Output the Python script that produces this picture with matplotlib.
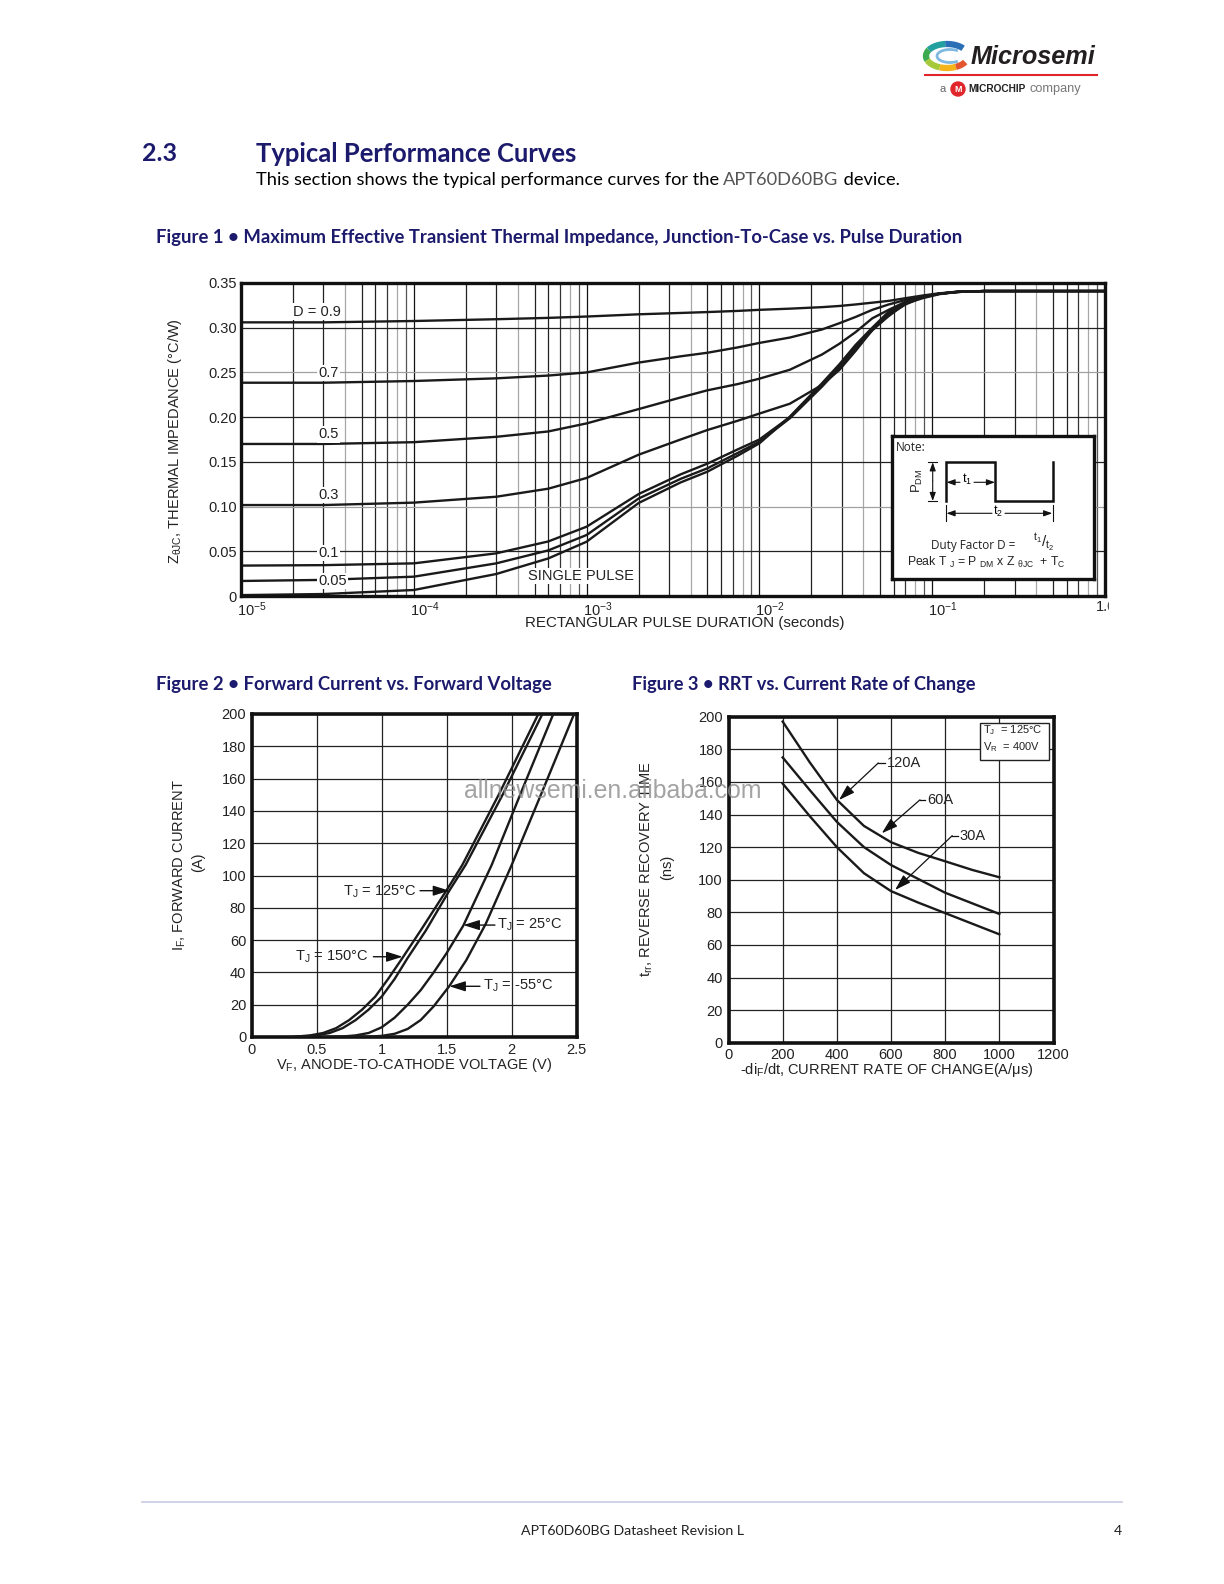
import matplotlib
matplotlib.use('Agg')
import matplotlib.pyplot as plt
import numpy as np
from matplotlib.patches import Rectangle, Circle
from matplotlib.lines import Line2D
from matplotlib.ticker import NullLocator
import matplotlib.transforms as mtransforms

plt.rcParams['font.family'] = ['Liberation Sans', 'DejaVu Sans']
plt.rcParams['mathtext.fontset'] = 'custom'
plt.rcParams['mathtext.rm'] = 'Liberation Sans'
plt.rcParams['mathtext.it'] = 'Liberation Sans:italic'
plt.rcParams['mathtext.bf'] = 'Liberation Sans:bold'

# ---------------- data ----------------
# Figure 1: transient thermal impedance (seconds, degC/W)
t_pulse = [1e-5, 3e-5, 1e-4, 3e-4, 6e-4, 1e-3, 2e-3, 3.5e-3, 5e-3, 7.5e-3, 1e-2,
           1.5e-2, 2.3e-2, 2.9e-2, 3.6e-2, 4.5e-2, 5.6e-2, 7e-2, 8.8e-2, 1.1e-1,
           1.4e-1, 2e-1, 1.0]
z_d09 = [0.306, 0.306, 0.3075, 0.3095, 0.311, 0.3125, 0.315, 0.3165, 0.3175, 0.3188,
         0.320, 0.3213, 0.323, 0.3243, 0.326, 0.328, 0.330, 0.333, 0.336, 0.3385,
         0.340, 0.341, 0.341]
z_d07 = [0.2385, 0.2385, 0.2404, 0.2434, 0.2465, 0.250, 0.261, 0.268, 0.272, 0.278,
         0.283, 0.289, 0.298, 0.305, 0.312, 0.320, 0.326, 0.331, 0.335, 0.338,
         0.3405, 0.341, 0.341]
z_d05 = [0.170, 0.170, 0.172, 0.178, 0.184, 0.193, 0.209, 0.222, 0.230, 0.237,
         0.243, 0.253, 0.270, 0.282, 0.295, 0.3105, 0.320, 0.329, 0.334, 0.338,
         0.340, 0.341, 0.341]
z_d03 = [0.1017, 0.1017, 0.1044, 0.111, 0.120, 0.132, 0.158, 0.175, 0.1856, 0.196,
         0.204, 0.215, 0.236, 0.2527, 0.274, 0.2974, 0.313, 0.327, 0.333, 0.3375,
         0.340, 0.341, 0.341]
z_d01 = [0.034, 0.0345, 0.0365, 0.0477, 0.061, 0.0775, 0.114, 0.136, 0.148, 0.164,
         0.175, 0.200, 0.236, 0.257, 0.279, 0.299, 0.316, 0.327, 0.3347, 0.338,
         0.340, 0.341, 0.341]
z_d005 = [0.0168, 0.018, 0.0216, 0.0365, 0.051, 0.0682, 0.109, 0.131, 0.1428, 0.160,
          0.1725, 0.1987, 0.234, 0.255, 0.277, 0.297, 0.3142, 0.326, 0.334, 0.338,
          0.340, 0.341, 0.341]
z_single = [0.001, 0.0022, 0.0067, 0.0246, 0.042, 0.0607, 0.104, 0.127, 0.139, 0.157,
            0.1707, 0.2005, 0.2378, 0.259, 0.2807, 0.300, 0.318, 0.328, 0.335, 0.338,
            0.340, 0.341, 0.341]
d_labels = ['D = 0.9', '0.7', '0.5', '0.3', '0.1', '0.05', 'SINGLE PULSE']

# Figure 2: forward current vs forward voltage
vf_150 = [0.30, 0.45, 0.55, 0.65, 0.75, 0.85, 0.95, 1.05, 1.16, 1.30, 1.50, 1.62, 1.90, 2.205]
if_150 = [0, 1, 2.5, 5.5, 10.5, 17, 25, 36, 49, 66, 91, 106.5, 150, 200]
vf_125 = [0.35, 0.50, 0.60, 0.70, 0.80, 0.90, 1.00, 1.10, 1.20, 1.34, 1.52, 1.645, 1.93, 2.236]
if_125 = [0, 1, 2.5, 5.5, 10.5, 17, 25, 36, 49, 66, 90.6, 106.5, 150, 200]
vf_25 = [0.55, 0.70, 0.80, 0.90, 1.00, 1.10, 1.20, 1.30, 1.40, 1.50, 1.628, 1.846, 2.08, 2.32]
if_25 = [0, 0.3, 1, 2.5, 6, 12, 20, 29, 40, 52, 69, 106.5, 153, 200]
vf_m55 = [0.75, 0.90, 1.00, 1.10, 1.20, 1.30, 1.40, 1.52, 1.65, 1.80, 2.00, 2.24, 2.48]
if_m55 = [0, 0.2, 0.7, 2, 5, 10.5, 19, 31.5, 47.5, 70, 106.5, 153, 200]
fig2_x_ticks = ['0', '0.5', '1', '1.5', '2', '2.5']

# Figure 3: reverse recovery time vs di/dt
didt = [200, 300, 400, 500, 600, 700, 800, 900, 1000]
trr_120 = [197, 172, 149, 133, 123, 116.5, 111.3, 106, 101.5]
trr_60 = [175, 155, 135.5, 120, 109, 100.5, 92, 85.5, 79]
trr_30 = [159, 139, 120, 104, 93, 86, 79.5, 73, 66.5]

NAVY = '#1c1a6c'
PAGE = ['Lato', 'DejaVu Sans']
INK = '#1a1a1a'

W, H = 1224, 1584
fig = plt.figure(figsize=(W / 100, H / 100), dpi=100)
renderer = fig.canvas.get_renderer()


def ax_px(l, t, r, b, **kw):
    return fig.add_axes([l / W, 1 - b / H, (r - l) / W, (b - t) / H], **kw)


def ftext(x, y, s, target_w=None, **kw):
    t = fig.text(x / W, 1 - y / H, s, **kw)
    if target_w:
        w = t.get_window_extent(renderer).width
        t.set_fontsize(t.get_fontsize() * target_w / w)
    return t


def text_w(s, **kw):
    t = fig.text(0, 0, s, **kw)
    w = t.get_window_extent(renderer).width
    t.remove()
    return w

# ---------------- page header ----------------
ftext(142, 153.5, '2.3', target_w=35, fontsize=17, fontweight='bold', color=NAVY,
      family=PAGE, va='center')
ftext(255.5, 153.5, 'Typical Performance Curves', target_w=321, fontsize=17,
      fontweight='bold', color=NAVY, family=PAGE, va='center')

segs = [('This section shows the typical performance curves for the ', 'black'),
        ('APT60D60BG', '#555555'), (' device.', 'black')]
full = ''.join(s for s, _ in segs)
fs_body = 12 * 642 / text_w(full, fontsize=12, family=PAGE)
x0 = 255.5
prefix = ''
for s, c in segs:
    off = (text_w(prefix + '|', fontsize=fs_body, family=PAGE)
           - text_w('|', fontsize=fs_body, family=PAGE)) if prefix else 0
    ftext(x0 + off, 180, s, fontsize=fs_body, color=c, family=PAGE, va='center')
    prefix += s

ftext(156.5, 237, 'Figure 1 \u2022 Maximum Effective Transient Thermal Impedance, Junction-To-Case vs. Pulse Duration',
      target_w=805, fontsize=12, fontweight='bold', color=NAVY, family=PAGE, va='center')
ftext(156.5, 684, 'Figure 2 \u2022 Forward Current vs. Forward Voltage', target_w=393,
      fontsize=12, fontweight='bold', color=NAVY, family=PAGE, va='center')
ftext(632, 684, 'Figure 3 \u2022 RRT vs. Current Rate of Change', target_w=342,
      fontsize=12, fontweight='bold', color=NAVY, family=PAGE, va='center')

# footer
fig.add_artist(Line2D([142 / W, 1122 / W], [1 - 1502 / H] * 2, color='#c9c9e6', lw=1.2))
ftext(632, 1531, 'APT60D60BG Datasheet Revision L', target_w=224, fontsize=10,
      family=PAGE, ha='center', va='center', color='#222')
ftext(1118, 1531, '4', fontsize=10, family=PAGE, ha='center', va='center', color='#222')

# ---------------- logo ----------------
axl = ax_px(915, 35, 1105, 100)
axl.set_xlim(915, 1105)
axl.set_ylim(100, 35)
axl.axis('off')
cx, cy, rx, ry = 947, 56, 21, 12
cols = [(40, 95, '#2a6fb6'), (95, 150, '#22a0a0'), (150, 200, '#3caa4e'),
        (200, 250, '#a6c93a'), (250, 295, '#f4b41a'), (295, 330, '#e4572e')]
for a0, a1, c in cols:
    th = np.radians(np.linspace(a0, a1, 30))
    axl.plot(cx + rx * np.cos(th), cy - ry * np.sin(th), color=c, lw=4.5,
             solid_capstyle='butt')
th = np.radians(np.linspace(60, 300, 40))
axl.plot(cx + 3 + 13 * np.cos(th), cy - 6.5 * np.sin(th), color='#7fb9e0', lw=2)
ftext(971, 57, 'Microsemi', target_w=125, fontsize=18, fontweight='bold',
      style='italic', color='#231f20', va='center')
axl.plot([925, 1097], [75, 75], color='#e0262b', lw=1.5)
ftext(943, 89, 'a', fontsize=8, color='#666', ha='center', va='center')
axl.add_patch(Circle((958, 89), 7, color='#e0262b'))
axl.text(958, 89.5, 'M', color='white', fontsize=6.5, fontweight='bold',
         ha='center', va='center')
ftext(968, 89.5, 'MICROCHIP', target_w=58, fontsize=7, fontweight='bold',
      color='#222', va='center')
ftext(1030, 89, 'company', target_w=52, fontsize=8, color='#777', va='center')

# ---------------- Figure 1 ----------------
ax1 = ax_px(241, 283, 1105, 596)
ax1.set_xscale('log')
ax1.set_xlim(1e-5, 1.0)
ax1.set_ylim(0, 0.35)
ax1.xaxis.set_major_locator(NullLocator())
ax1.xaxis.set_minor_locator(NullLocator())
mult_col = {1: '#111111', 2: '#222222', 3: '#222222', 4: '#a8a8a8', 5: '#222222',
            6: '#222222', 7: '#333333', 8: '#a8a8a8', 9: '#555555'}
for dec in range(-5, 0):
    for m in range(1, 10):
        x = m * 10.0 ** dec
        if x <= 1e-5:
            continue
        ax1.axvline(x, color=mult_col[m], lw=0.9, zorder=1)
hcol = {0.05: '#222222', 0.10: '#a0a0a0', 0.15: '#222222', 0.20: '#222222',
        0.25: '#a0a0a0', 0.30: '#222222'}
for yv, c in hcol.items():
    ax1.axhline(yv, color=c, lw=0.9, zorder=1)
yt = np.round(np.arange(0, 0.351, 0.05), 2)
ax1.set_yticks(yt)
ax1.set_yticklabels(['0', '0.05', '0.10', '0.15', '0.20', '0.25', '0.30', '0.35'],
                    fontsize=10.5, color='#222')
ax1.tick_params(axis='y', length=0, pad=3)
for sp in ax1.spines.values():
    sp.set_linewidth(2.4)
    sp.set_color('#111')
    sp.set_zorder(5)
for z in [z_d09, z_d07, z_d05, z_d03, z_d01, z_d005, z_single]:
    ax1.plot(t_pulse, z, color=INK, lw=1.7, zorder=3)

lab_pos = [(2.0e-5, 0.318), (2.79e-5, 0.2494), (2.79e-5, 0.1811), (2.79e-5, 0.1129),
           (2.79e-5, 0.0481), (2.79e-5, 0.0168), (4.56e-4, 0.0224)]
for (lx, ly), s in zip(lab_pos, d_labels):
    ax1.text(lx, ly, s, fontsize=10.5, color='#222', ha='left', va='center', zorder=4,
             bbox=dict(facecolor='white', edgecolor='none', pad=1.0))

dec_labels = ['10$^{\\mathregular{-5}}$', '10$^{\\mathregular{-4}}$', '10$^{\\mathregular{-3}}$',
              '10$^{\\mathregular{-2}}$', '10$^{\\mathregular{-1}}$', '1.0']
tr = mtransforms.blended_transform_factory(ax1.transData, ax1.transAxes)
for i, s in enumerate(dec_labels):
    xv = 10.0 ** (i - 5)
    t = ax1.text(xv, 0, s, fontsize=10.5, color='#222', ha='left', va='top',
                 transform=mtransforms.offset_copy(tr, fig=fig, x=-4 if i < 5 else -9,
                                                   y=-4, units='dots'))
    t.set_clip_on(False)
fig.add_artist(Rectangle((1108.5 / W, 1 - 640 / H), (W - 1108.5) / W, 40 / H,
                         transform=fig.transFigure, color='white', zorder=20))
ftext(685, 623, 'RECTANGULAR PULSE DURATION (seconds)', target_w=322, fontsize=10.5,
      ha='center', va='center', color='#222')
ftext(175, 441, 'Z$_{\\mathregular{\u03b8JC}}$, THERMAL IMPEDANCE (\u00b0C/W)',
      fontsize=10.5, rotation=90, ha='center', va='center', color='#222')

# Note box
axn = ax_px(892, 436, 1094, 579)
axn.set_xlim(892, 1094)
axn.set_ylim(579, 436)
axn.set_xticks([])
axn.set_yticks([])
axn.set_facecolor('white')
for sp in axn.spines.values():
    sp.set_linewidth(2.4)
    sp.set_color('#111')
NF = ['Open Sans', 'DejaVu Sans']
axn.text(896, 441, 'Note:', fontsize=8.5, family=NF, ha='left', va='top', color='#222')
axn.plot([946, 946, 995.3, 995.3, 1052.7, 1052.7], [501, 462.3, 462.3, 501, 501, 462.3],
         color='#111', lw=1.8, solid_joinstyle='miter')
ap = dict(arrowstyle='-|>,head_length=0.5,head_width=0.18', color='#111', lw=0.8,
          mutation_scale=10, shrinkA=0, shrinkB=0)
axn.annotate('', xy=(932.7, 462.3), xytext=(932.7, 481), arrowprops=ap)
axn.annotate('', xy=(932.7, 501), xytext=(932.7, 481), arrowprops=ap)
axn.plot([928, 937], [462.3, 462.3], color='#111', lw=0.8)
axn.plot([928, 937], [501, 501], color='#111', lw=0.8)
axn.text(917, 481, 'P$_{\\mathregular{DM}}$', fontsize=9.5, rotation=90,
         ha='center', va='center', color='#222')
axn.annotate('', xy=(946.5, 482.3), xytext=(960, 482.3), arrowprops=ap)
axn.annotate('', xy=(995, 482.3), xytext=(974, 482.3), arrowprops=ap)
axn.text(967, 479, 't$_{\\mathregular{1}}$', fontsize=9, ha='center', va='center')
axn.plot([946, 946], [505, 521], color='#111', lw=0.8)
axn.plot([1052.7, 1052.7], [505, 521], color='#111', lw=0.8)
axn.annotate('', xy=(946.5, 513.3), xytext=(992, 513.3), arrowprops=ap)
axn.annotate('', xy=(1052.2, 513.3), xytext=(1005, 513.3), arrowprops=ap)
axn.text(998.5, 511, 't$_{\\mathregular{2}}$', fontsize=9, ha='center', va='center')
axn.text(973, 546, 'Duty Factor D =', fontsize=8.5, family=NF, ha='center', va='center',
         color='#222')
axn.text(1033, 542, '$\\mathregular{^{t_1}/_{t_2}}$', fontsize=11, ha='left', va='center',
         color='#222')
axn.text(907, 562, 'Peak T $_{\\mathregular{J}}$ = P $_{\\mathregular{DM}}$ x Z $_{\\mathregular{\u03b8JC}}$  + T$_{\\mathregular{C}}$',
         fontsize=8.8, ha='left', va='center', color='#222')

# ---------------- Figure 2 ----------------
ax2 = ax_px(251.7, 714, 576.7, 1037)
ax2.set_xlim(0, 2.5)
ax2.set_ylim(0, 200)
ax2.set_xticks(np.arange(0, 2.51, 0.5))
ax2.set_xticklabels(fig2_x_ticks, fontsize=10.5, color='#222')
ax2.set_yticks(np.arange(0, 201, 20))
ax2.set_yticklabels([str(v) for v in range(0, 201, 20)], fontsize=10.5, color='#222')
ax2.tick_params(length=0, pad=4)
ax2.grid(True, color='#222', lw=0.9)
ax2.set_axisbelow(True)
for sp in ax2.spines.values():
    sp.set_linewidth(2.6)
    sp.set_color('#111')
for v, i in [(vf_150, if_150), (vf_125, if_125), (vf_25, if_25), (vf_m55, if_m55)]:
    ax2.plot(v, i, color=INK, lw=1.7, zorder=3)
ap2 = dict(arrowstyle='-|>,head_length=0.7,head_width=0.22', color='#111', lw=1.0,
           mutation_scale=14, shrinkA=0, shrinkB=0)
ax2.text(1.269, 90, 'T$_{\\mathregular{J}}$ = 125\u00b0C', fontsize=10.5, ha='right',
         va='center', color='#222')
ax2.annotate('', xy=(1.52, 90.6), xytext=(1.295, 90.6), arrowprops=ap2)
ax2.text(0.897, 49.7, 'T$_{\\mathregular{J}}$ = 150\u00b0C', fontsize=10.5, ha='right',
         va='center', color='#222')
ax2.annotate('', xy=(1.161, 49.7), xytext=(0.936, 49.7), arrowprops=ap2)
ax2.text(1.884, 69.3, 'T$_{\\mathregular{J}}$ = 25\u00b0C', fontsize=10.5, ha='left',
         va='center', color='#222')
ax2.annotate('', xy=(1.628, 69.3), xytext=(1.871, 69.3), arrowprops=ap2)
ax2.text(1.782, 31.4, 'T$_{\\mathregular{J}}$ = -55\u00b0C', fontsize=10.5, ha='left',
         va='center', color='#222')
ax2.annotate('', xy=(1.52, 31.4), xytext=(1.756, 31.4), arrowprops=ap2)
ftext(180, 865, 'I$_{\\mathregular{F}}$, FORWARD CURRENT', fontsize=10.5, rotation=90,
      ha='center', va='center', color='#222')
ftext(198, 862, '(A)', fontsize=10.5, rotation=90, ha='center', va='center', color='#222')
ftext(414, 1065, 'V$_{\\mathregular{F}}$, ANODE-TO-CATHODE VOLTAGE (V)', fontsize=10.5,
      ha='center', va='center', color='#222')

# ---------------- Figure 3 ----------------
ax3 = ax_px(728.5, 716.7, 1053.5, 1042.7)
ax3.set_xlim(0, 1200)
ax3.set_ylim(0, 200)
ax3.set_xticks(np.arange(0, 1201, 200))
ax3.set_xticklabels([str(v) for v in range(0, 1201, 200)], fontsize=10.5, color='#222')
ax3.set_yticks(np.arange(0, 201, 20))
ax3.set_yticklabels([str(v) for v in range(0, 201, 20)], fontsize=10.5, color='#222')
ax3.tick_params(length=0, pad=4)
ax3.grid(True, color='#222', lw=0.9)
ax3.set_axisbelow(True)
for sp in ax3.spines.values():
    sp.set_linewidth(2.6)
    sp.set_color('#111')
for trr in [trr_120, trr_60, trr_30]:
    ax3.plot(didt, trr, color=INK, lw=1.7, zorder=3)
ap3 = dict(arrowstyle='-|>,head_length=0.7,head_width=0.22', color='#111', lw=0.9,
           mutation_scale=14, shrinkA=0, shrinkB=0)
for txt, tx, corner, tip in [('120A', 584, (553, 171.6), (408, 148.9)),
                             ('60A', 732, (707, 149), (566, 128.5)),
                             ('30A', 852, (826, 127), (615, 93.7))]:
    ax3.text(tx, corner[1], txt, fontsize=10.5, ha='left', va='center', color='#222')
    ax3.plot([corner[0], tx - 6], [corner[1], corner[1]], color='#111', lw=0.9)
    ax3.annotate('', xy=tip, xytext=corner, arrowprops=ap3)
ax3.add_patch(Rectangle((929, 173.4), 254, 22.6, facecolor='white', edgecolor='#222',
                        lw=1.0, zorder=4))
ax3.text(941, 191.5, 'T$_{\\mathregular{J}}$  = 125\u00b0C', fontsize=8, ha='left',
         va='center', color='#222', zorder=5)
ax3.text(941, 181.5, 'V$_{\\mathregular{R}}$  = 400V', fontsize=8, ha='left',
         va='center', color='#222', zorder=5)
ftext(647, 869, 't$_{\\mathregular{rr}}$, REVERSE RECOVERY TIME', fontsize=10.5, rotation=90,
      ha='center', va='center', color='#222')
ftext(667, 867, '(ns)', fontsize=10.5, rotation=90, ha='center', va='center', color='#222')
ftext(887, 1070, '-di$_{\\mathregular{F}}$/dt, CURRENT RATE OF CHANGE(A/\u03bcs)', fontsize=10.5,
      ha='center', va='center', color='#222')

# watermark
ftext(613, 791, 'allnewsemi.en.alibaba.com', target_w=300, fontsize=15, color='#8c8c8c',
      alpha=0.8, ha='center', va='center', zorder=30)

fig.savefig('out.png', dpi=100)
